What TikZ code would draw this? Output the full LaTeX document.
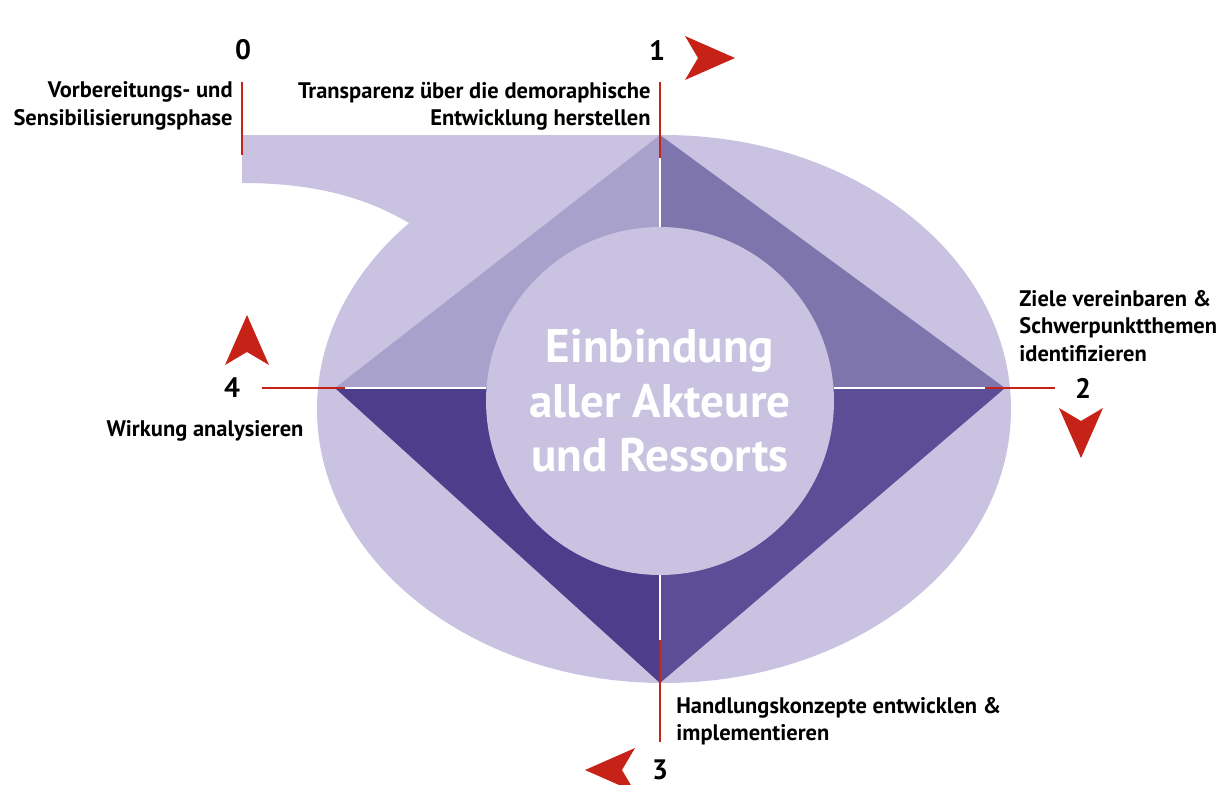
\documentclass[tikz,border=0pt]{standalone}
\usepackage{fontspec}
\setmainfont{PT Sans}
\usetikzlibrary{calc}
\definecolor{lila}{HTML}{C9C3E1}
\definecolor{viertelOL}{HTML}{A8A1CB}
\definecolor{viertelOR}{HTML}{7F75AD}
\definecolor{viertelUL}{HTML}{4C3E8A}
\definecolor{viertelUR}{HTML}{5B4D96}
\definecolor{pfeilrot}{HTML}{C62218}
\def\pfeil[#1](#2){\fill[color=pfeilrot, shift={(#2)}, rotate=#1] (0,0) -- (-50,-22) -- (-37,0) -- (-50,22) -- cycle}

\begin{document}
\begin{tikzpicture}[x=0.02cm, y=-0.02cm,
		rotlinie/.style={line width=1.7pt, color=pfeilrot},
		weisslinie/.style={line width=1.7pt, color=white},
		schrift/.style={font=\fontsize{12.8}{15.5}\selectfont\bfseries, inner sep=0pt},
		ziffer/.style={font=\fontsize{16}{18}\selectfont\bfseries, inner sep=0pt}]
		%%%%% START %%%%%
		\useasboundingbox (0,0) rectangle (1225,785);
		
		\fill[color=lila] (242,135) -- (664,135) -- (664,300) -- (420,230) .. controls (375,200) and (320,183) .. (242,183) -- cycle;
		\fill[color=lila] (664,409) ellipse (347 and 274);
		
		\coordinate (M) at (660,388);
		\coordinate (T) at (660,135);
		\coordinate (R) at (1005,388);
		\coordinate (B) at (660,683);
		\coordinate (L) at (335,388);
		
		\fill[color=viertelOL] (M) -- (T) -- (L) -- cycle;
		\fill[color=viertelOR] (M) -- (T) -- (R) -- cycle;
		\fill[color=viertelUL] (M) -- (B) -- (L) -- cycle;
		\fill[color=viertelUR] (M) -- (B) -- (R) -- cycle;
		
		\node[circle, fill=lila, minimum size=6.96cm, inner sep=0pt, align=center, text=white, font=\fontsize{26.8}{31}\selectfont\bfseries] (kreis) at (660,401) {Einbindung\\aller Akteure\\und Ressorts};
		
		\draw[weisslinie] (kreis.north) -- (660,152);
		\draw[weisslinie] (kreis.east |- M) -- (985,388);
		\draw[weisslinie] (kreis.south) -- (660,640);
		\draw[weisslinie] (kreis.west |- M) -- (345,388);
		
		% Phasen
		\node[ziffer] (n0) at (243,50) {0};
		\node[ziffer] (n1) at (657,50) {1};
		\node[ziffer] (n2) at (1083,388) {2};
		\node[ziffer] (n3) at (660,770) {3};
		\node[ziffer] (n4) at (232,388) {4};
		
		\node[schrift, anchor=east, align=right] (t0) at (233,106) {Vorbereitungs- und\\Sensibilisierungsphase};
		\node[schrift, anchor=east, align=right] (t1) at (651,106) {Transparenz über die demoraphische\\Entwicklung herstellen};
		\node[schrift, anchor=west, align=left] (t2) at (1019,326) {Ziele vereinbaren \&\\Schwerpunktthemen\\identifizieren};
		\node[schrift, anchor=west, align=left] (t3) at (676,721) {Handlungskonzepte entwicklen \&\\implementieren};
		\node[schrift] (t4) at (205,431) {Wirkung analysieren};
		
		\draw[rotlinie] (242,82) -- (242,155);
		\draw[rotlinie] (660,82) -- (660,158);
		\draw[rotlinie] (985,388) -- (1055,388);
		\draw[rotlinie] (660,640) -- (660,742);
		\draw[rotlinie] (262,388) -- (345,388);
		
		\pfeil[0](735,58);
		\pfeil[-90](1081,458);
		\pfeil[180](585,770);
		\pfeil[90](247,315);
		
		%%%%% END %%%%%
\end{tikzpicture}
\end{document}
